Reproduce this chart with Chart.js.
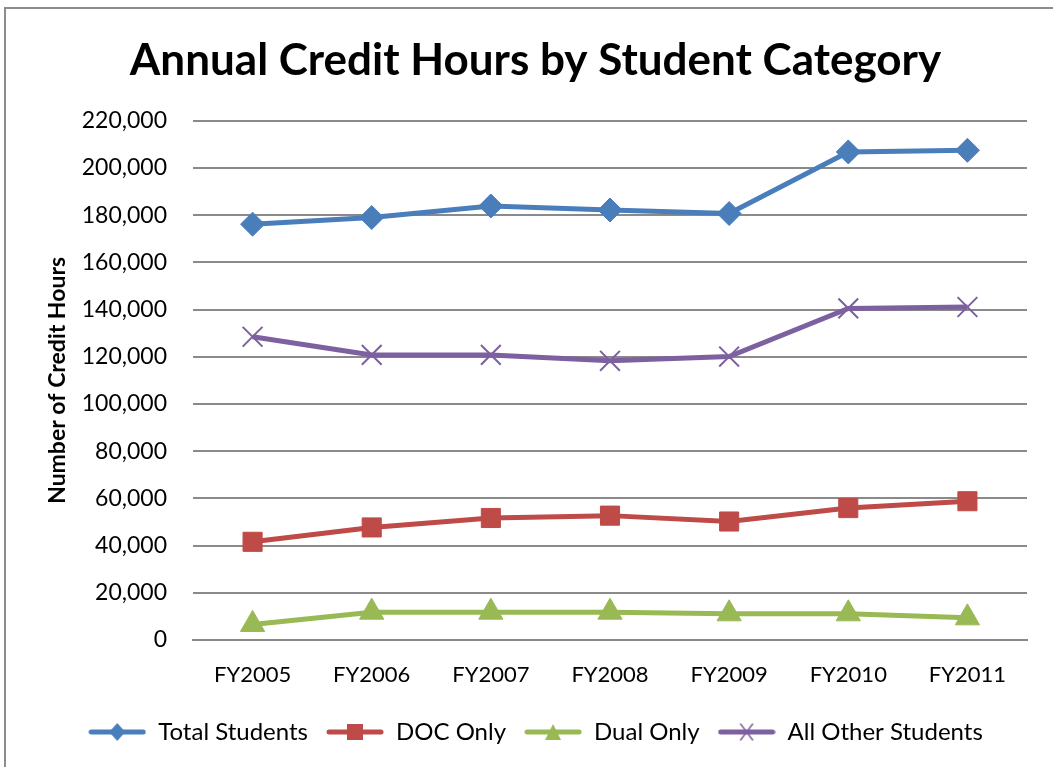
<!DOCTYPE html>
<html>
<head>
<meta charset="utf-8">
<title>Annual Credit Hours by Student Category</title>
<script src="https://cdn.jsdelivr.net/npm/chart.js@4.4.0/dist/chart.umd.min.js"></script>
<style>
  html, body { margin: 0; padding: 0; background: #fff; overflow: hidden; }
  #wrap { position: relative; width: 1053px; height: 767px; }
  #frame { position: absolute; left: 4px; top: 7px; width: 1100px; height: 800px; border: 2px solid #8c8c8c; box-sizing: border-box; }
  #chart { position: absolute; left: 0; top: 0; }
</style>
</head>
<body>
<div id="wrap">
  <div id="frame"></div>
  <canvas id="chart" width="1053" height="767"></canvas>
</div>
<script>
// podaci sa grafikona
const years = ['FY2005', 'FY2006', 'FY2007', 'FY2008', 'FY2009', 'FY2010', 'FY2011'];
const totalStudents = [176200, 179000, 183900, 182200, 180700, 206800, 207500];
const docOnly = [41600, 47700, 51700, 52700, 50200, 55900, 58800];
const dualOnly = [6600, 11800, 11800, 11800, 11100, 11100, 9400];
const allOther = [128500, 120800, 120800, 118300, 120100, 140500, 141100];
const yTicks = [0, 20000, 40000, 60000, 80000, 100000, 120000, 140000, 160000, 180000, 200000, 220000];

const fontFamily = 'Lato, "Open Sans", sans-serif';
const gridColor = '#8a8a8a';

// mala slika linije sa markerom za legendu
function legendIcon(color, shape) {
    const c = document.createElement('canvas');
    c.width = 58;
    c.height = 22;
    const ctx = c.getContext('2d');
    ctx.strokeStyle = color;
    ctx.fillStyle = color;
    ctx.lineWidth = 5;
    ctx.lineCap = 'round';
    ctx.beginPath();
    ctx.moveTo(3, 11);
    ctx.lineTo(55, 11);
    ctx.stroke();
    ctx.beginPath();
    if (shape === 'diamond') {
        ctx.moveTo(29, 2); ctx.lineTo(37, 11); ctx.lineTo(29, 20); ctx.lineTo(21, 11);
        ctx.closePath(); ctx.fill();
    } else if (shape === 'square') {
        ctx.fillRect(21, 3, 16, 16);
    } else if (shape === 'triangle') {
        ctx.moveTo(29, 3); ctx.lineTo(37, 19); ctx.lineTo(21, 19);
        ctx.closePath(); ctx.fill();
    } else {
        ctx.lineWidth = 1.5;
        ctx.moveTo(23, 3); ctx.lineTo(35, 19);
        ctx.moveTo(35, 3); ctx.lineTo(23, 19);
        ctx.stroke();
    }
    return c;
}

const series = [
    { label: 'Total Students', data: totalStudents, color: '#4a7ebb', style: 'rectRot', radius: 12, icon: 'diamond' },
    { label: 'DOC Only', data: docOnly, color: '#be4b48', style: 'rect', radius: 13.5, icon: 'square' },
    { label: 'Dual Only', data: dualOnly, color: '#98b954', style: 'triangle', radius: 14, icon: 'triangle' },
    { label: 'All Other Students', data: allOther, color: '#7d60a0', style: 'crossRot', radius: 14, icon: 'cross' }
];

const ctx = document.getElementById('chart').getContext('2d');
new Chart(ctx, {
    type: 'line',
    data: {
        labels: years,
        datasets: series.map(s => ({
            label: s.label,
            data: s.data,
            borderColor: s.color,
            backgroundColor: s.color,
            borderWidth: 5,
            tension: 0,
            pointStyle: s.style,
            pointRadius: s.radius,
            pointHoverRadius: s.radius,
            pointBorderWidth: s.style === 'crossRot' ? 2 : 1,
            pointBorderColor: s.color,
            pointBackgroundColor: s.color,
            legendIcon: legendIcon(s.color, s.icon)
        }))
    },
    options: {
        responsive: false,
        animation: false,
        layout: { padding: { left: 44, right: 26, top: 0, bottom: 13 } },
        plugins: {
            title: {
                display: true,
                text: 'Annual Credit Hours by Student Category',
                color: '#000',
                font: { family: fontFamily, size: 44, weight: 'bold' },
                padding: { top: 34, bottom: 34 }
            },
            legend: {
                position: 'bottom',
                labels: {
                    usePointStyle: true,
                    pointStyleWidth: 58,
                    color: '#000',
                    font: { family: fontFamily, size: 24 },
                    padding: 18,
                    generateLabels: chart => chart.data.datasets.map((ds, i) => ({
                        text: ds.label,
                        pointStyle: ds.legendIcon,
                        fillStyle: ds.borderColor,
                        strokeStyle: ds.borderColor,
                        lineWidth: 0,
                        hidden: false,
                        datasetIndex: i
                    }))
                }
            },
            tooltip: { enabled: false }
        },
        scales: {
            x: {
                offset: true,
                grid: { display: false, drawTicks: false },
                border: { display: true, color: gridColor, width: 2 },
                ticks: { color: '#000', padding: 22, font: { family: fontFamily, size: 22 } },
                afterFit: scale => { scale.height = 62; }
            },
            y: {
                min: 0,
                max: 220000,
                afterBuildTicks: scale => { scale.ticks = yTicks.map(v => ({ value: v })); },
                grid: { color: gridColor, lineWidth: 2, drawTicks: false },
                border: { display: false },
                ticks: {
                    color: '#000',
                    padding: 26,
                    font: { family: fontFamily, size: 23 },
                    callback: value => value.toLocaleString('en-US')
                },
                title: {
                    display: true,
                    text: 'Number of Credit Hours',
                    color: '#000',
                    font: { family: fontFamily, size: 23, weight: 'bold' },
                    padding: 0
                },
                afterFit: scale => { scale.width = 149; }
            }
        }
    }
});
</script>
</body>
</html>
